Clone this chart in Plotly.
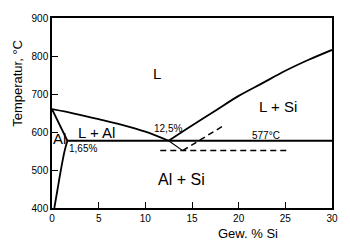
import plotly.graph_objects as go

# Data
liq_al_x = [0, 2.5, 5, 7.5, 10, 12.5]
liq_al_t = [660, 648, 634, 619, 601, 577]
solidus_x = [0, 1.65]
solidus_t = [660, 577]
solvus_x = [1.65, 1.35, 0.95, 0.6, 0.25]
solvus_t = [577, 550, 500, 450, 400]
liq_si_x = [12.5, 15, 17.5, 20, 22.5, 25, 27.5, 30]
liq_si_t = [577, 617, 656, 695, 728, 761, 790, 816]
eut_x = [1.65, 30]
eut_t = [577, 577]
meta_left_x = [12.5, 14.0]
meta_left_t = [577, 551]
meta_right_x = [14.0, 18.2]
meta_right_t = [551, 614]
meta_h_x = [11.6, 25.4]
meta_h_t = [551, 551]

x_ticks = [0, 5, 10, 15, 20, 25, 30]
y_ticks = [400, 500, 600, 700, 800, 900]

labels = [
    ("L", 11.2, 754, 15),
    ("L + Si", 24.2, 667, 15),
    ("L + Al", 4.8, 598, 15),
    ("Al", 0.85, 584, 15),
    ("1,65%", 3.3, 556, 10),
    ("12,5%", 12.4, 608, 10),
    ("577°C", 22.9, 590, 10),
    ("Al + Si", 13.9, 475, 16),
]

fig = go.Figure()
solid = dict(color="black", width=1.8)
for xs, ts in [(liq_al_x, liq_al_t), (solidus_x, solidus_t), (solvus_x, solvus_t),
               (liq_si_x, liq_si_t), (eut_x, eut_t)]:
    fig.add_trace(go.Scatter(x=xs, y=ts, mode="lines", line=solid, line_shape="spline",
                             hoverinfo="skip", showlegend=False))
fig.add_trace(go.Scatter(x=meta_left_x, y=meta_left_t, mode="lines",
                         line=dict(color="black", width=1.2), showlegend=False, hoverinfo="skip"))
for xs, ts in [(meta_right_x, meta_right_t), (meta_h_x, meta_h_t)]:
    fig.add_trace(go.Scatter(x=xs, y=ts, mode="lines",
                             line=dict(color="black", width=1.5, dash="6px,4px"),
                             showlegend=False, hoverinfo="skip"))

for txt, x, y, s in labels:
    fig.add_annotation(x=x, y=y, text=txt, showarrow=False,
                       font=dict(family="Liberation Sans, Arial", size=s, color="black"))

fig.add_annotation(xref="paper", yref="paper", x=-0.124, y=0.655, text="Temperatur, °C",
                   textangle=-90, showarrow=False, xanchor="center", yanchor="middle",
                   font=dict(family="Liberation Sans, Arial", size=13, color="black"))
fig.add_annotation(xref="paper", yref="paper", x=0.70, y=-0.135, text="Gew. % Si",
                   showarrow=False, xanchor="center", yanchor="middle",
                   font=dict(family="Liberation Sans, Arial", size=13, color="black"))

axis_common = dict(showgrid=False, zeroline=False, showline=True, linecolor="black",
                   linewidth=1.5, mirror=True, ticks="inside", ticklen=6, tickwidth=1.2,
                   tickcolor="black",
                   tickfont=dict(family="Liberation Sans, Arial", size=10, color="black"))
fig.update_xaxes(range=[0, 30], tickvals=x_ticks, ticktext=[str(v) for v in x_ticks],
                 **axis_common)
fig.update_yaxes(range=[400, 900], tickvals=y_ticks, ticktext=[str(v) for v in y_ticks],
                 **axis_common)

fig.update_layout(width=350, height=249, margin=dict(l=52, r=15, t=16, b=41),
                  plot_bgcolor="white", paper_bgcolor="white")

fig.write_html("out.html")
